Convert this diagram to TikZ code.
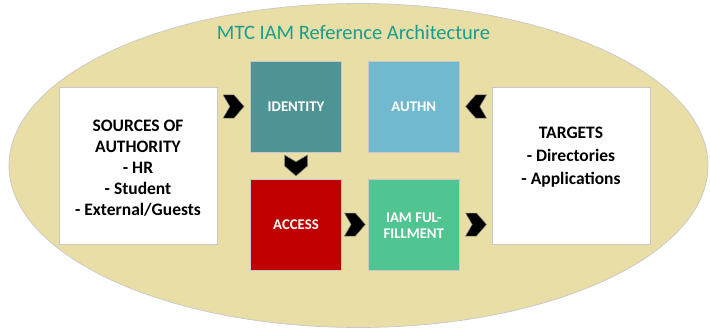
\documentclass[tikz,border=0pt]{standalone}
\usepackage{fontspec}
\setmainfont{Carlito}
\usetikzlibrary{calc}
\definecolor{ovalfill}{RGB}{232,222,166}
\definecolor{ovalline}{RGB}{200,200,200}
\definecolor{boxline}{RGB}{200,200,200}
\definecolor{identcol}{RGB}{79,148,148}
\definecolor{authncol}{RGB}{112,185,207}
\definecolor{accesscol}{RGB}{192,0,0}
\definecolor{fulfilcol}{RGB}{80,197,145}
\definecolor{titlecol}{RGB}{24,158,142}
\tikzset{
  sidebox/.style={draw=boxline, line width=0.8pt, fill=white, minimum width=158pt, minimum height=157pt, inner sep=0pt},
  stagebox/.style={draw=boxline, line width=0.8pt, minimum width=91.5pt, minimum height=91pt, inner sep=0pt},
  stagetext/.style={text=white, font=\fontsize{14.8}{16}\selectfont\bfseries, align=center},
  sidetext/.style={text=black, align=center},
  chev/.pic={\filldraw[fill=black, draw=black!45, line width=0.5pt]
     (-10.5,-11.5) -- (0.5,-11.5) -- (10.5,0) -- (0.5,11.5) -- (-10.5,11.5) -- (-3.8,0) -- cycle;}
}
\begin{document}
\begin{tikzpicture}[x=1pt, y=-1pt]
\useasboundingbox (0,0) rectangle (710,329);
\draw[fill=ovalfill, draw=ovalline, line width=0.7pt] (358.5,165.5) ellipse [x radius=349.5, y radius=162];
\node[anchor=base, text=titlecol, font=\fontsize{20.5}{24}\selectfont] (title) at (353.5,40) {MTC IAM Reference Architecture};
\node[sidebox] (src) at (138,165.5) {};
\node[sidebox] (tgt) at (571.5,165.5) {};
\node[stagebox, fill=identcol] (ident) at (296,106.5) {};
\node[stagebox, fill=authncol] (authn) at (413.8,106.5) {};
\node[stagebox, fill=accesscol] (access) at (296,224.5) {};
\node[stagebox, fill=fulfilcol] (fulfil) at (413.8,224.5) {};
\node[stagetext] (identlbl) at (ident.center) {IDENTITY};
\node[stagetext] (authnlbl) at (authn.center) {AUTHN};
\node[stagetext] (accesslbl) at (access.center) {ACCESS};
\node[stagetext] (fulfillbl) at ($(fulfil.center)+(0,1)$) {IAM FUL-\\FILLMENT};
\node[sidetext, font=\fontsize{17.5}{20.9}\selectfont\bfseries] (srclbl) at (138,168) {SOURCES OF\\AUTHORITY\\- HR\\- Student\\- External/Guests};
\node[sidetext, font=\fontsize{17.5}{22.75}\selectfont\bfseries] (tgtlbl) at (571,157) {TARGETS\\- Directories\\- Applications};
\pic at ($(src.east |- ident.west)!0.5!(ident.west)$) {chev};
\pic[rotate=180] at ($(authn.east)!0.5!(tgt.west |- authn.east)$) {chev};
\pic[rotate=-90] at ($(ident.south)!0.5!(access.north)$) {chev};
\pic at ($(access.east)!0.5!(fulfil.west)$) {chev};
\pic at ($(fulfil.east)!0.5!(tgt.west |- fulfil.east)$) {chev};
\end{tikzpicture}
\end{document}
